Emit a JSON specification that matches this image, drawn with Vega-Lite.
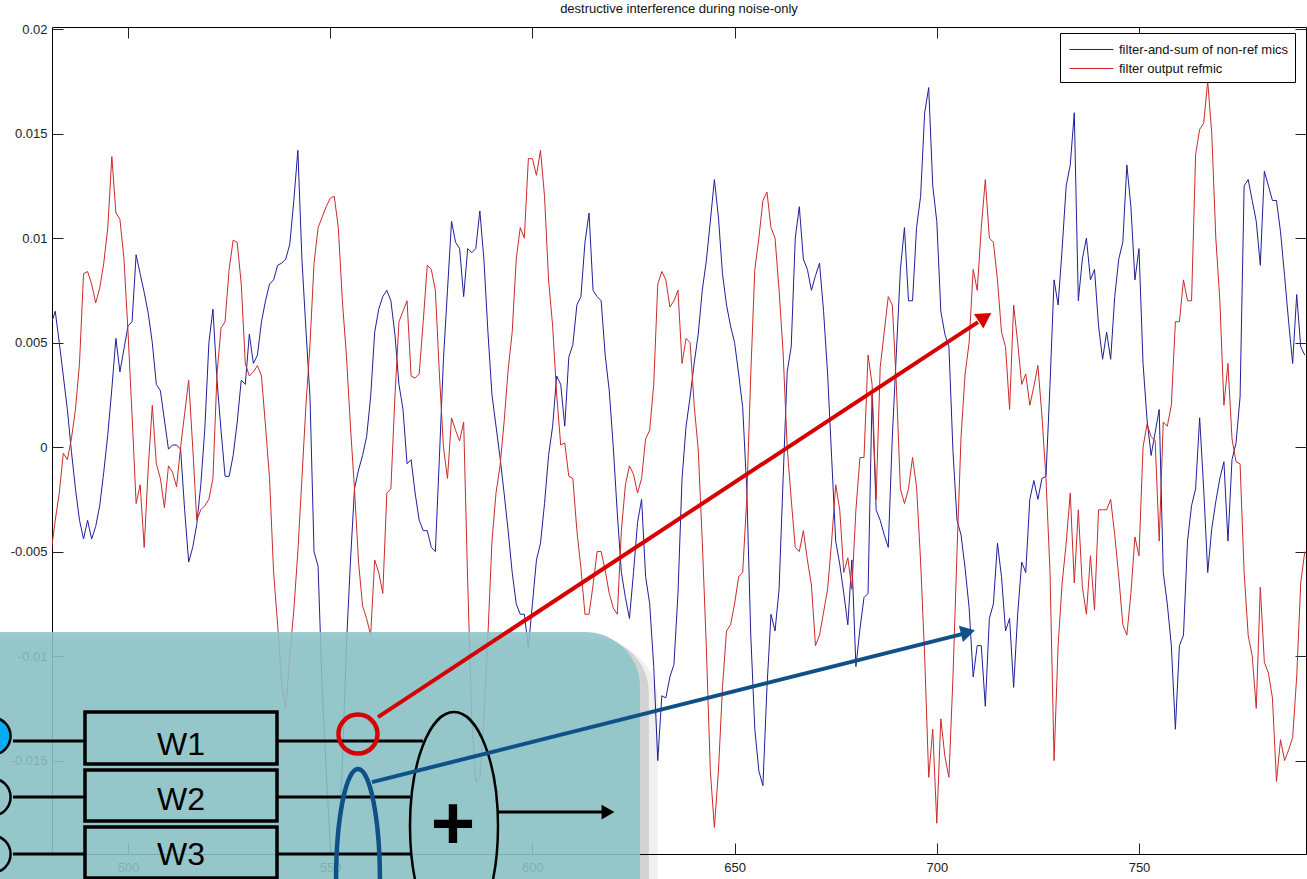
{
"$schema": "https://vega.github.io/schema/vega-lite/v6.json",
"width": 1254, "height": 827,
"autosize": {"type": "none"},
"padding": {"left": 52, "top": 27, "right": 1, "bottom": 25},
"background": "white",
"title": {"text": "destructive interference during noise-only", "fontSize": 13, "fontWeight": "normal", "font": "Liberation Sans", "color": "#111", "offset": 7, "anchor": "middle"},
"datasets": {
"signals": [
{"n":481,"blue":0.0059,"red":-0.0050},{"n":482,"blue":0.0065,"red":-0.0035},{"n":483,"blue":0.0050,"red":-0.0022},{"n":484,"blue":0.0034,"red":-0.0003},{"n":485,"blue":0.0018,"red":-0.0006},{"n":486,"blue":-0.0002,"red":0.0004},{"n":487,"blue":-0.0020,"red":0.0018},{"n":488,"blue":-0.0035,"red":0.0040},{"n":489,"blue":-0.0044,"red":0.0083},{"n":490,"blue":-0.0035,"red":0.0084},
{"n":491,"blue":-0.0044,"red":0.0078},{"n":492,"blue":-0.0038,"red":0.0069},{"n":493,"blue":-0.0028,"red":0.0076},{"n":494,"blue":-0.0012,"red":0.0088},{"n":495,"blue":0.0006,"red":0.0105},{"n":496,"blue":0.0028,"red":0.0139},{"n":497,"blue":0.0052,"red":0.0112},{"n":498,"blue":0.0036,"red":0.0109},{"n":499,"blue":0.0047,"red":0.0090},{"n":500,"blue":0.0058,"red":0.0055},
{"n":501,"blue":0.0060,"red":0.0015},{"n":502,"blue":0.0092,"red":-0.0027},{"n":503,"blue":0.0083,"red":-0.0018},{"n":504,"blue":0.0074,"red":-0.0048},{"n":505,"blue":0.0064,"red":-0.0010},{"n":506,"blue":0.0050,"red":0.0020},{"n":507,"blue":0.0030,"red":-0.0008},{"n":508,"blue":0.0027,"red":-0.0015},{"n":509,"blue":0.0013,"red":-0.0029},{"n":510,"blue":-0.0001,"red":-0.0009},
{"n":511,"blue":0.0001,"red":-0.0012},{"n":512,"blue":0.0001,"red":-0.0019},{"n":513,"blue":-0.0001,"red":0.0000},{"n":514,"blue":-0.0030,"red":0.0016},{"n":515,"blue":-0.0055,"red":0.0032},{"n":516,"blue":-0.0048,"red":0.0000},{"n":517,"blue":-0.0037,"red":-0.0035},{"n":518,"blue":-0.0018,"red":-0.0030},{"n":519,"blue":0.0009,"red":-0.0028},{"n":520,"blue":0.0050,"red":-0.0025},
{"n":521,"blue":0.0066,"red":-0.0015},{"n":522,"blue":0.0032,"red":0.0035},{"n":523,"blue":0.0008,"red":0.0057},{"n":524,"blue":-0.0014,"red":0.0060},{"n":525,"blue":-0.0014,"red":0.0085},{"n":526,"blue":-0.0004,"red":0.0099},{"n":527,"blue":0.0012,"red":0.0098},{"n":528,"blue":0.0032,"red":0.0078},{"n":529,"blue":0.0030,"red":0.0040},{"n":530,"blue":0.0054,"red":0.0034},
{"n":531,"blue":0.0040,"red":0.0036},{"n":532,"blue":0.0044,"red":0.0039},{"n":533,"blue":0.0060,"red":0.0034},{"n":534,"blue":0.0070,"red":0.0010},{"n":535,"blue":0.0078,"red":-0.0015},{"n":536,"blue":0.0080,"red":-0.0060},{"n":537,"blue":0.0087,"red":-0.0085},{"n":538,"blue":0.0088,"red":-0.0113},{"n":539,"blue":0.0090,"red":-0.0125},{"n":540,"blue":0.0097,"red":-0.0100},
{"n":541,"blue":0.0118,"red":-0.0078},{"n":542,"blue":0.0142,"red":-0.0050},{"n":543,"blue":0.0090,"red":-0.0015},{"n":544,"blue":0.0056,"red":0.0020},{"n":545,"blue":0.0024,"red":0.0049},{"n":546,"blue":-0.0050,"red":0.0088},{"n":547,"blue":-0.0057,"red":0.0105},{"n":548,"blue":-0.0115,"red":0.0110},{"n":549,"blue":-0.0155,"red":0.0115},{"n":550,"blue":-0.0190,"red":0.0119},
{"n":551,"blue":-0.0215,"red":0.0120},{"n":552,"blue":-0.0185,"red":0.0105},{"n":553,"blue":-0.0153,"red":0.0070},{"n":554,"blue":-0.0095,"red":0.0044},{"n":555,"blue":-0.0055,"red":0.0010},{"n":556,"blue":-0.0020,"red":-0.0020},{"n":557,"blue":-0.0011,"red":-0.0055},{"n":558,"blue":-0.0004,"red":-0.0076},{"n":559,"blue":0.0005,"red":-0.0082},{"n":560,"blue":0.0024,"red":-0.0090},
{"n":561,"blue":0.0055,"red":-0.0054},{"n":562,"blue":0.0066,"red":-0.0060},{"n":563,"blue":0.0072,"red":-0.0070},{"n":564,"blue":0.0075,"red":-0.0022},{"n":565,"blue":0.0070,"red":-0.0020},{"n":566,"blue":0.0054,"red":0.0024},{"n":567,"blue":0.0030,"red":0.0060},{"n":568,"blue":0.0018,"red":0.0065},{"n":569,"blue":-0.0008,"red":0.0070},{"n":570,"blue":-0.0006,"red":0.0034},
{"n":571,"blue":-0.0022,"red":0.0033},{"n":572,"blue":-0.0035,"red":0.0035},{"n":573,"blue":-0.0040,"red":0.0060},{"n":574,"blue":-0.0040,"red":0.0087},{"n":575,"blue":-0.0048,"red":0.0085},{"n":576,"blue":-0.0050,"red":0.0075},{"n":577,"blue":-0.0005,"red":0.0035},{"n":578,"blue":0.0042,"red":0.0000},{"n":579,"blue":0.0075,"red":-0.0015},{"n":580,"blue":0.0108,"red":0.0014},
{"n":581,"blue":0.0098,"red":0.0008},{"n":582,"blue":0.0095,"red":0.0003},{"n":583,"blue":0.0072,"red":0.0012},{"n":584,"blue":0.0095,"red":-0.0065},{"n":585,"blue":0.0093,"red":-0.0130},{"n":586,"blue":0.0095,"red":-0.0160},{"n":587,"blue":0.0113,"red":-0.0158},{"n":588,"blue":0.0090,"red":-0.0130},{"n":589,"blue":0.0055,"red":-0.0090},{"n":590,"blue":0.0025,"red":-0.0045},
{"n":591,"blue":0.0010,"red":-0.0022},{"n":592,"blue":-0.0005,"red":-0.0009},{"n":593,"blue":-0.0022,"red":0.0012},{"n":594,"blue":-0.0040,"red":0.0037},{"n":595,"blue":-0.0060,"red":0.0055},{"n":596,"blue":-0.0075,"red":0.0090},{"n":597,"blue":-0.0080,"red":0.0105},{"n":598,"blue":-0.0080,"red":0.0100},{"n":599,"blue":-0.0096,"red":0.0138},{"n":600,"blue":-0.0075,"red":0.0138},
{"n":601,"blue":-0.0054,"red":0.0130},{"n":602,"blue":-0.0046,"red":0.0142},{"n":603,"blue":-0.0027,"red":0.0120},{"n":604,"blue":-0.0004,"red":0.0080},{"n":605,"blue":0.0010,"red":0.0058},{"n":606,"blue":0.0034,"red":0.0025},{"n":607,"blue":0.0030,"red":0.0001},{"n":608,"blue":0.0010,"red":0.0002},{"n":609,"blue":0.0043,"red":-0.0014},{"n":610,"blue":0.0049,"red":-0.0015},
{"n":611,"blue":0.0068,"red":-0.0040},{"n":612,"blue":0.0072,"red":-0.0058},{"n":613,"blue":0.0098,"red":-0.0080},{"n":614,"blue":0.0112,"red":-0.0080},{"n":615,"blue":0.0075,"red":-0.0066},{"n":616,"blue":0.0072,"red":-0.0050},{"n":617,"blue":0.0070,"red":-0.0050},{"n":618,"blue":0.0044,"red":-0.0059},{"n":619,"blue":0.0027,"red":-0.0070},{"n":620,"blue":0.0000,"red":-0.0077},
{"n":621,"blue":-0.0032,"red":-0.0080},{"n":622,"blue":-0.0060,"red":-0.0040},{"n":623,"blue":-0.0072,"red":-0.0018},{"n":624,"blue":-0.0082,"red":-0.0009},{"n":625,"blue":-0.0060,"red":-0.0013},{"n":626,"blue":-0.0036,"red":-0.0022},{"n":627,"blue":-0.0025,"red":-0.0015},{"n":628,"blue":-0.0062,"red":0.0004},{"n":629,"blue":-0.0075,"red":0.0008},{"n":630,"blue":-0.0105,"red":0.0030},
{"n":631,"blue":-0.0150,"red":0.0078},{"n":632,"blue":-0.0119,"red":0.0084},{"n":633,"blue":-0.0120,"red":0.0080},{"n":634,"blue":-0.0110,"red":0.0067},{"n":635,"blue":-0.0104,"red":0.0070},{"n":636,"blue":-0.0070,"red":0.0075},{"n":637,"blue":-0.0015,"red":0.0040},{"n":638,"blue":0.0010,"red":0.0052},{"n":639,"blue":0.0024,"red":0.0050},{"n":640,"blue":0.0040,"red":0.0020},
{"n":641,"blue":0.0054,"red":-0.0001},{"n":642,"blue":0.0075,"red":-0.0045},{"n":643,"blue":0.0089,"red":-0.0095},{"n":644,"blue":0.0108,"red":-0.0155},{"n":645,"blue":0.0128,"red":-0.0182},{"n":646,"blue":0.0110,"red":-0.0155},{"n":647,"blue":0.0083,"red":-0.0115},{"n":648,"blue":0.0068,"red":-0.0088},{"n":649,"blue":0.0058,"red":-0.0085},{"n":650,"blue":0.0050,"red":-0.0075},
{"n":651,"blue":0.0035,"red":-0.0062},{"n":652,"blue":0.0019,"red":-0.0060},{"n":653,"blue":-0.0020,"red":-0.0025},{"n":654,"blue":-0.0090,"red":0.0035},{"n":655,"blue":-0.0135,"red":0.0085},{"n":656,"blue":-0.0155,"red":0.0100},{"n":657,"blue":-0.0162,"red":0.0118},{"n":658,"blue":-0.0115,"red":0.0122},{"n":659,"blue":-0.0080,"red":0.0105},{"n":660,"blue":-0.0088,"red":0.0100},
{"n":661,"blue":-0.0068,"red":0.0075},{"n":662,"blue":-0.0015,"red":0.0045},{"n":663,"blue":0.0036,"red":0.0000},{"n":664,"blue":0.0048,"red":-0.0025},{"n":665,"blue":0.0100,"red":-0.0048},{"n":666,"blue":0.0115,"red":-0.0050},{"n":667,"blue":0.0090,"red":-0.0040},{"n":668,"blue":0.0085,"red":-0.0054},{"n":669,"blue":0.0075,"red":-0.0066},{"n":670,"blue":0.0082,"red":-0.0095},
{"n":671,"blue":0.0088,"red":-0.0090},{"n":672,"blue":0.0065,"red":-0.0079},{"n":673,"blue":0.0035,"red":-0.0068},{"n":674,"blue":-0.0005,"red":-0.0045},{"n":675,"blue":-0.0045,"red":-0.0018},{"n":676,"blue":-0.0056,"red":-0.0030},{"n":677,"blue":-0.0070,"red":-0.0060},{"n":678,"blue":-0.0085,"red":-0.0053},{"n":679,"blue":-0.0054,"red":-0.0068},{"n":680,"blue":-0.0105,"red":-0.0030},
{"n":681,"blue":-0.0087,"red":-0.0005},{"n":682,"blue":-0.0072,"red":-0.0005},{"n":683,"blue":-0.0070,"red":0.0044},{"n":684,"blue":0.0025,"red":0.0030},{"n":685,"blue":-0.0030,"red":-0.0025},{"n":686,"blue":-0.0035,"red":0.0038},{"n":687,"blue":-0.0042,"red":0.0055},{"n":688,"blue":-0.0048,"red":0.0072},{"n":689,"blue":0.0005,"red":0.0068},{"n":690,"blue":0.0045,"red":0.0030},
{"n":691,"blue":0.0085,"red":-0.0020},{"n":692,"blue":0.0105,"red":-0.0027},{"n":693,"blue":0.0070,"red":-0.0020},{"n":694,"blue":0.0070,"red":-0.0005},{"n":695,"blue":0.0105,"red":-0.0019},{"n":696,"blue":0.0120,"red":-0.0055},{"n":697,"blue":0.0160,"red":-0.0100},{"n":698,"blue":0.0172,"red":-0.0158},{"n":699,"blue":0.0125,"red":-0.0135},{"n":700,"blue":0.0108,"red":-0.0180},
{"n":701,"blue":0.0065,"red":-0.0130},{"n":702,"blue":0.0054,"red":-0.0148},{"n":703,"blue":0.0048,"red":-0.0158},{"n":704,"blue":-0.0002,"red":-0.0110},{"n":705,"blue":-0.0035,"red":-0.0050},{"n":706,"blue":-0.0042,"red":0.0005},{"n":707,"blue":-0.0058,"red":0.0035},{"n":708,"blue":-0.0077,"red":0.0050},{"n":709,"blue":-0.0110,"red":0.0085},{"n":710,"blue":-0.0095,"red":0.0075},
{"n":711,"blue":-0.0095,"red":0.0105},{"n":712,"blue":-0.0124,"red":0.0128},{"n":713,"blue":-0.0082,"red":0.0100},{"n":714,"blue":-0.0075,"red":0.0098},{"n":715,"blue":-0.0046,"red":0.0080},{"n":716,"blue":-0.0062,"red":0.0055},{"n":717,"blue":-0.0088,"red":0.0048},{"n":718,"blue":-0.0082,"red":0.0018},{"n":719,"blue":-0.0115,"red":0.0068},{"n":720,"blue":-0.0080,"red":0.0050},
{"n":721,"blue":-0.0055,"red":0.0030},{"n":722,"blue":-0.0060,"red":0.0035},{"n":723,"blue":-0.0025,"red":0.0020},{"n":724,"blue":-0.0016,"red":0.0029},{"n":725,"blue":-0.0025,"red":0.0039},{"n":726,"blue":-0.0015,"red":0.0015},{"n":727,"blue":-0.0014,"red":-0.0015},{"n":728,"blue":0.0030,"red":-0.0060},{"n":729,"blue":0.0080,"red":-0.0150},{"n":730,"blue":0.0068,"red":-0.0095},
{"n":731,"blue":0.0095,"red":-0.0065},{"n":732,"blue":0.0125,"red":-0.0046},{"n":733,"blue":0.0135,"red":-0.0022},{"n":734,"blue":0.0160,"red":-0.0065},{"n":735,"blue":0.0070,"red":-0.0030},{"n":736,"blue":0.0090,"red":-0.0067},{"n":737,"blue":0.0100,"red":-0.0080},{"n":738,"blue":0.0080,"red":-0.0052},{"n":739,"blue":0.0085,"red":-0.0078},{"n":740,"blue":0.0058,"red":-0.0030},
{"n":741,"blue":0.0042,"red":-0.0030},{"n":742,"blue":0.0055,"red":-0.0030},{"n":743,"blue":0.0042,"red":-0.0025},{"n":744,"blue":0.0072,"red":-0.0042},{"n":745,"blue":0.0090,"red":-0.0062},{"n":746,"blue":0.0098,"red":-0.0085},{"n":747,"blue":0.0135,"red":-0.0090},{"n":748,"blue":0.0115,"red":-0.0070},{"n":749,"blue":0.0080,"red":-0.0043},{"n":750,"blue":0.0095,"red":-0.0052},
{"n":751,"blue":0.0040,"red":0.0000},{"n":752,"blue":0.0013,"red":0.0011},{"n":753,"blue":-0.0004,"red":0.0005},{"n":754,"blue":0.0007,"red":0.0003},{"n":755,"blue":0.0018,"red":-0.0045},{"n":756,"blue":-0.0060,"red":0.0012},{"n":757,"blue":-0.0075,"red":0.0010},{"n":758,"blue":-0.0095,"red":0.0020},{"n":759,"blue":-0.0135,"red":0.0060},{"n":760,"blue":-0.0095,"red":0.0060},
{"n":761,"blue":-0.0090,"red":0.0080},{"n":762,"blue":-0.0045,"red":0.0070},{"n":763,"blue":-0.0028,"red":0.0070},{"n":764,"blue":-0.0020,"red":0.0140},{"n":765,"blue":0.0014,"red":0.0152},{"n":766,"blue":-0.0020,"red":0.0155},{"n":767,"blue":-0.0060,"red":0.0175},{"n":768,"blue":-0.0039,"red":0.0150},{"n":769,"blue":-0.0026,"red":0.0100},{"n":770,"blue":-0.0015,"red":0.0070},
{"n":771,"blue":-0.0007,"red":0.0020},{"n":772,"blue":-0.0045,"red":0.0040},{"n":773,"blue":-0.0006,"red":0.0004},{"n":774,"blue":0.0002,"red":-0.0007},{"n":775,"blue":0.0024,"red":-0.0008},{"n":776,"blue":0.0125,"red":-0.0060},{"n":777,"blue":0.0128,"red":-0.0090},{"n":778,"blue":0.0118,"red":-0.0100},{"n":779,"blue":0.0108,"red":-0.0125},{"n":780,"blue":0.0087,"red":-0.0067},
{"n":781,"blue":0.0132,"red":-0.0103},{"n":782,"blue":0.0125,"red":-0.0108},{"n":783,"blue":0.0118,"red":-0.0120},{"n":784,"blue":0.0118,"red":-0.0160},{"n":785,"blue":0.0103,"red":-0.0140},{"n":786,"blue":0.0082,"red":-0.0150},{"n":787,"blue":0.0060,"red":-0.0145},{"n":788,"blue":0.0040,"red":-0.0139},{"n":789,"blue":0.0073,"red":-0.0110},{"n":790,"blue":0.0048,"red":-0.0065},
{"n":791,"blue":0.0044,"red":-0.0050}
]
},
"layer": [
{
"data": {"name": "signals"},
"transform": [{"fold": ["blue", "red"], "as": ["series", "value"]}],
"mark": {"type": "line", "strokeWidth": 1, "clip": true},
"encoding": {
"x": {"field": "n", "type": "quantitative", "scale": {"domain": [481.2, 791.3], "nice": false, "zero": false},
 "axis": {"orient": "bottom", "values": [500, 550, 600, 650, 700, 750], "labelPadding": 18, "labelExpr": "'' + datum.value", "title": null}},
"y": {"field": "value", "type": "quantitative", "scale": {"domain": [-0.01947, 0.0201], "nice": false, "zero": false},
 "axis": {"orient": "left", "values": [-0.015, -0.01, -0.005, 0, 0.005, 0.01, 0.015, 0.02], "labelPadding": 16, "labelExpr": "'' + datum.value", "title": null}},
"color": {"field": "series", "type": "nominal", "sort": ["blue", "red"],
 "scale": {"domain": ["blue", "red"], "range": ["#1f1f99", "#cc2a2a"]},
 "legend": {"orient": "none", "legendX": 1008, "legendY": 6, "title": null, "symbolType": "M-0.7,0H3.7", "symbolSize": 400, "symbolStrokeWidth": 1, "labelOffset": 32, "labelFontSize": 13, "labelFont": "Liberation Sans", "labelColor": "#111", "labelLimit": 400, "padding": 6, "rowPadding": 1, "strokeColor": "black", "fillColor": "white",
 "labelExpr": "datum.value == 'blue' ? 'filter-and-sum of non-ref mics' : 'filter output refmic'"}}
}
},
{
"data": {"values": [{"x": 455, "x2": 631.0, "y": -0.00933, "y2": -0.03}]},
"mark": {"type": "rect", "color": "black", "opacity": 0.06, "cornerRadiusTopRight": 58},
"encoding": {
"x": {"field": "x", "type": "quantitative", "scale": {"domain": [481.2, 791.3], "nice": false, "zero": false}, "axis": null},
"x2": {"field": "x2"},
"y": {"field": "y", "type": "quantitative", "scale": {"domain": [-0.01947, 0.0201], "nice": false, "zero": false}, "axis": null},
"y2": {"field": "y2"}
}
},
{
"data": {"values": [{"x": 455, "x2": 628.8, "y": -0.00909, "y2": -0.03}]},
"mark": {"type": "rect", "color": "black", "opacity": 0.12, "cornerRadiusTopRight": 56},
"encoding": {
"x": {"field": "x", "type": "quantitative", "scale": {"domain": [481.2, 791.3], "nice": false, "zero": false}, "axis": null},
"x2": {"field": "x2"},
"y": {"field": "y", "type": "quantitative", "scale": {"domain": [-0.01947, 0.0201], "nice": false, "zero": false}, "axis": null},
"y2": {"field": "y2"}
}
},
{
"data": {"values": [{"x": 455, "x2": 626.6, "y": -0.00885, "y2": -0.03}]},
"mark": {"type": "rect", "color": "#8CC4C8", "opacity": 0.88, "cornerRadiusTopRight": 55},
"encoding": {
"x": {"field": "x", "type": "quantitative", "scale": {"domain": [481.2, 791.3], "nice": false, "zero": false},
 "axis": {"orient": "top", "values": [500, 550, 600, 650, 700, 750], "labels": false, "title": null}},
"x2": {"field": "x2"},
"y": {"field": "y", "type": "quantitative", "scale": {"domain": [-0.01947, 0.0201], "nice": false, "zero": false},
 "axis": {"orient": "right", "values": [-0.015, -0.01, -0.005, 0, 0.005, 0.01, 0.015, 0.02], "labels": false, "title": null}},
"y2": {"field": "y2"}
}
},
{
"data": {"values": [
 {"x": 489.36, "x2": 536.84, "y": -0.01268, "y2": -0.015168},
 {"x": 489.36, "x2": 536.84, "y": -0.015456, "y2": -0.017896},
 {"x": 489.36, "x2": 536.84, "y": -0.018183, "y2": -0.020623}]},
"mark": {"type": "rect", "fill": "transparent", "stroke": "black", "strokeWidth": 3.5},
"encoding": {
"x": {"field": "x", "type": "quantitative", "scale": {"domain": [481.2, 791.3], "nice": false, "zero": false}, "axis": null},
"x2": {"field": "x2"},
"y": {"field": "y", "type": "quantitative", "scale": {"domain": [-0.01947, 0.0201], "nice": false, "zero": false}, "axis": null},
"y2": {"field": "y2"}
}
},
{
"data": {"values": [
 {"x": 471.56, "x2": 489.36, "y": -0.014068, "y2": -0.014068},
 {"x": 536.84, "x2": 572.94, "y": -0.014068, "y2": -0.014068},
 {"x": 471.56, "x2": 489.36, "y": -0.016748, "y2": -0.016748},
 {"x": 536.84, "x2": 569.73, "y": -0.016748, "y2": -0.016748},
 {"x": 471.56, "x2": 489.36, "y": -0.019475, "y2": -0.019475},
 {"x": 536.84, "x2": 569.73, "y": -0.019475, "y2": -0.019475},
 {"x": 591.49, "x2": 617.2, "y": -0.017465, "y2": -0.017465}]},
"mark": {"type": "rule", "color": "black", "strokeWidth": 3},
"encoding": {
"x": {"field": "x", "type": "quantitative", "scale": {"domain": [481.2, 791.3], "nice": false, "zero": false}, "axis": null},
"x2": {"field": "x2"},
"y": {"field": "y", "type": "quantitative", "scale": {"domain": [-0.01947, 0.0201], "nice": false, "zero": false}, "axis": null},
"y2": {"field": "y2"}
}
},
{
"data": {"values": [{"x": 466.36, "y": -0.013829}]},
"mark": {"type": "point", "shape": "circle", "size": 1385, "filled": true, "fill": "#00AEEF", "stroke": "black", "strokeWidth": 2.5, "opacity": 1},
"encoding": {
"x": {"field": "x", "type": "quantitative", "scale": {"domain": [481.2, 791.3], "nice": false, "zero": false}, "axis": null},
"y": {"field": "y", "type": "quantitative", "scale": {"domain": [-0.01947, 0.0201], "nice": false, "zero": false}, "axis": null}
}
},
{
"data": {"values": [{"x": 466.36, "y": -0.016748}, {"x": 466.36, "y": -0.019475}]},
"mark": {"type": "point", "shape": "circle", "size": 1385, "filled": false, "stroke": "black", "strokeWidth": 2.5, "opacity": 1},
"encoding": {
"x": {"field": "x", "type": "quantitative", "scale": {"domain": [481.2, 791.3], "nice": false, "zero": false}, "axis": null},
"y": {"field": "y", "type": "quantitative", "scale": {"domain": [-0.01947, 0.0201], "nice": false, "zero": false}, "axis": null}
}
},
{
"data": {"values": [
 {"label": "W1", "x": 513.1, "y": -0.014259},
 {"label": "W2", "x": 513.1, "y": -0.016891},
 {"label": "W3", "x": 513.1, "y": -0.019523}]},
"mark": {"type": "text", "font": "Liberation Sans", "fontSize": 32, "color": "black", "align": "center", "baseline": "middle"},
"encoding": {
"x": {"field": "x", "type": "quantitative", "scale": {"domain": [481.2, 791.3], "nice": false, "zero": false}, "axis": null},
"y": {"field": "y", "type": "quantitative", "scale": {"domain": [-0.01947, 0.0201], "nice": false, "zero": false}, "axis": null},
"text": {"field": "label"}
}
},
{
"data": {"values": [{"x": 580.61, "y": -0.018135}]},
"mark": {"type": "point", "shape": "M0,-1C0.2132,-1,0.386,-0.5523,0.386,0C0.386,0.5523,0.2132,1,0,1C-0.2132,1,-0.386,0.5523,-0.386,0C-0.386,-0.5523,-0.2132,-1,0,-1Z", "size": 51984, "filled": false, "stroke": "black", "strokeWidth": 2.5, "opacity": 1},
"encoding": {
"x": {"field": "x", "type": "quantitative", "scale": {"domain": [481.2, 791.3], "nice": false, "zero": false}, "axis": null},
"y": {"field": "y", "type": "quantitative", "scale": {"domain": [-0.01947, 0.0201], "nice": false, "zero": false}, "axis": null}
}
},
{
"data": {"values": [{"label": "+", "x": 580.36, "y": -0.018135}]},
"mark": {"type": "text", "font": "Liberation Sans", "fontSize": 76, "fontWeight": "bold", "color": "black", "align": "center", "baseline": "middle"},
"encoding": {
"x": {"field": "x", "type": "quantitative", "scale": {"domain": [481.2, 791.3], "nice": false, "zero": false}, "axis": null},
"y": {"field": "y", "type": "quantitative", "scale": {"domain": [-0.01947, 0.0201], "nice": false, "zero": false}, "axis": null},
"text": {"field": "label"}
}
},
{
"data": {"values": [{"x": 618.69, "y": -0.017465}]},
"mark": {"type": "point", "shape": "triangle-right", "size": 220, "filled": true, "color": "black", "opacity": 1},
"encoding": {
"x": {"field": "x", "type": "quantitative", "scale": {"domain": [481.2, 791.3], "nice": false, "zero": false}, "axis": null},
"y": {"field": "y", "type": "quantitative", "scale": {"domain": [-0.01947, 0.0201], "nice": false, "zero": false}, "axis": null}
}
},
{
"data": {"values": [{"x": 556.87, "y": -0.013733}]},
"mark": {"type": "point", "shape": "circle", "size": 1521, "filled": false, "stroke": "#D60000", "strokeWidth": 4.5, "opacity": 1},
"encoding": {
"x": {"field": "x", "type": "quantitative", "scale": {"domain": [481.2, 791.3], "nice": false, "zero": false}, "axis": null},
"y": {"field": "y", "type": "quantitative", "scale": {"domain": [-0.01947, 0.0201], "nice": false, "zero": false}, "axis": null}
}
},
{
"data": {"values": [{"x": 561.81, "y": -0.01292, "x2": 710.18, "y2": 0.005981}]},
"mark": {"type": "rule", "color": "#D60000", "strokeWidth": 4},
"encoding": {
"x": {"field": "x", "type": "quantitative", "scale": {"domain": [481.2, 791.3], "nice": false, "zero": false}, "axis": null},
"x2": {"field": "x2"},
"y": {"field": "y", "type": "quantitative", "scale": {"domain": [-0.01947, 0.0201], "nice": false, "zero": false}, "axis": null},
"y2": {"field": "y2"}
}
},
{
"data": {"values": [{"x": 711.91, "y": 0.006221}]},
"mark": {"type": "point", "shape": "triangle-right", "size": 300, "filled": true, "color": "#D60000", "opacity": 1, "angle": -33},
"encoding": {
"x": {"field": "x", "type": "quantitative", "scale": {"domain": [481.2, 791.3], "nice": false, "zero": false}, "axis": null},
"y": {"field": "y", "type": "quantitative", "scale": {"domain": [-0.01947, 0.0201], "nice": false, "zero": false}, "axis": null}
}
},
{
"data": {"values": [{"x": 556.87, "y": -0.020767}]},
"mark": {"type": "point", "shape": "M0,-1C0.1083,-1,0.196,-0.5523,0.196,0C0.196,0.5523,0.1083,1,0,1C-0.1083,1,-0.196,0.5523,-0.196,0C-0.196,-0.5523,-0.1083,-1,0,-1Z", "size": 50176, "filled": false, "stroke": "#0F5087", "strokeWidth": 4.5, "opacity": 1},
"encoding": {
"x": {"field": "x", "type": "quantitative", "scale": {"domain": [481.2, 791.3], "nice": false, "zero": false}, "axis": null},
"y": {"field": "y", "type": "quantitative", "scale": {"domain": [-0.01947, 0.0201], "nice": false, "zero": false}, "axis": null}
}
},
{
"data": {"values": [{"x": 560.33, "y": -0.01603, "x2": 706.22, "y2": -0.008948}]},
"mark": {"type": "rule", "color": "#0F5087", "strokeWidth": 4},
"encoding": {
"x": {"field": "x", "type": "quantitative", "scale": {"domain": [481.2, 791.3], "nice": false, "zero": false}, "axis": null},
"x2": {"field": "x2"},
"y": {"field": "y", "type": "quantitative", "scale": {"domain": [-0.01947, 0.0201], "nice": false, "zero": false}, "axis": null},
"y2": {"field": "y2"}
}
},
{
"data": {"values": [{"x": 707.71, "y": -0.008852}]},
"mark": {"type": "point", "shape": "triangle-right", "size": 280, "filled": true, "color": "#0F5087", "opacity": 1, "angle": -14},
"encoding": {
"x": {"field": "x", "type": "quantitative", "scale": {"domain": [481.2, 791.3], "nice": false, "zero": false}, "axis": null},
"y": {"field": "y", "type": "quantitative", "scale": {"domain": [-0.01947, 0.0201], "nice": false, "zero": false}, "axis": null}
}
}
],
"config": {
"view": {"stroke": "black", "strokeWidth": 1},
"axis": {"grid": false, "domain": false, "ticks": true, "tickSize": -11, "tickColor": "#222", "tickWidth": 1, "labelColor": "#222", "labelFont": "Liberation Sans", "labelFontSize": 13, "labelFlush": false, "labelOverlap": false}
}
}
